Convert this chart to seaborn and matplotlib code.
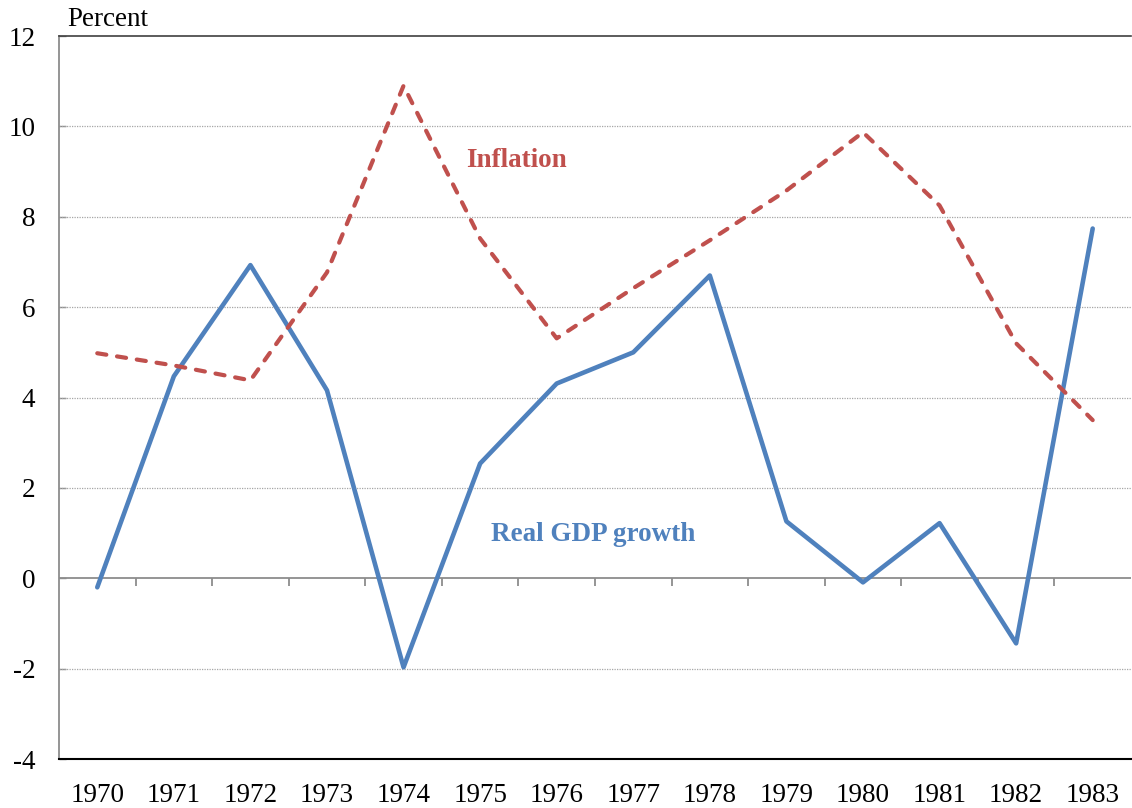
import numpy as np
import pandas as pd
import matplotlib
matplotlib.use("Agg")
import matplotlib.pyplot as plt
import seaborn as sns

# values
years = [1970, 1971, 1972, 1973, 1974, 1975, 1976, 1977, 1978, 1979, 1980, 1981, 1982, 1983]
gdp_growth = [-0.2, 4.47, 6.93, 4.16, -1.97, 2.54, 4.31, 5.0, 6.7, 1.26, -0.09, 1.22, -1.44, 7.74]
inflation = [4.98, 4.71, 4.38, 6.77, 10.9, 7.52, 5.31, 6.42, 7.48, 8.58, 9.87, 8.25, 5.2, 3.5]
y_ticks = [-4, -2, 0, 2, 4, 6, 8, 10, 12]

BLUE = "#4F81BD"
RED = "#C0504D"

df = pd.DataFrame({"year": years, "gdp": gdp_growth, "inflation": inflation})

sns.set_style("white")
plt.rcParams["font.family"] = ["Liberation Serif", "DejaVu Serif"]
plt.rcParams["axes.unicode_minus"] = False
plt.rcParams["text.color"] = "black"
plt.rcParams["xtick.color"] = "black"
plt.rcParams["ytick.color"] = "black"

fig = plt.figure(figsize=(11.32, 8.08), dpi=100)
ax = fig.add_axes([0.0521, 0.0606, 0.947, 0.8948])

sns.lineplot(data=df, x="year", y="gdp", ax=ax, color=BLUE, linewidth=3.3,
             solid_capstyle="round", solid_joinstyle="round", zorder=4)
sns.lineplot(data=df, x="year", y="inflation", ax=ax, color=RED, linewidth=3.0,
             dashes=False, zorder=4)
red_line = ax.get_lines()[-1]
red_line.set_dashes((2.2, 2.6))
red_line.set_dash_capstyle("round")

ax.set_xlim(years[0] - 0.5, years[-1] + 0.5)
ax.set_ylim(-4, 12)

# dotted gridlines
for v in [-2, 2, 4, 6, 8, 10]:
    ax.axhline(v, color="#a6a6a6", lw=0.9, ls=(0, (1, 1)), zorder=1)

# category axis drawn at zero
ax.axhline(0, color="#8c8c8c", lw=1.3, zorder=2)
bounds = np.array(years[:-1]) + 0.5
ax.vlines(bounds, -0.16, 0, color="#8c8c8c", lw=1.3, zorder=2)

ax.set_yticks(y_ticks)
ax.set_xticks(years)
ax.set_xticklabels([str(y) for y in years])
ax.tick_params(axis="y", direction="in", length=5, width=1, color="#8c8c8c",
               labelcolor="black", pad=17, labelsize=19.5, left=True)
ax.tick_params(axis="x", length=0, pad=17, labelsize=19.5, labelcolor="black")
ax.set_xlabel("")
ax.set_ylabel("")

ax.spines["right"].set_visible(False)
ax.spines["left"].set_color("#8c8c8c")
ax.spines["left"].set_linewidth(1.3)
ax.spines["top"].set_color("#404040")
ax.spines["top"].set_linewidth(1.2)
ax.spines["bottom"].set_color("black")
ax.spines["bottom"].set_linewidth(1.5)

ax.text(1975.47, 9.25, "Inflation", color=RED, fontsize=19.5, fontweight="bold",
        ha="center", va="center")
ax.text(1976.48, 0.97, "Real GDP growth", color=BLUE, fontsize=19.5, fontweight="bold",
        ha="center", va="center")

fig.text(67 / 1132, 1 - 20 / 808, "Percent", fontsize=19.5, ha="left", va="center",
         color="black")

fig.savefig("out.png", dpi=100)
